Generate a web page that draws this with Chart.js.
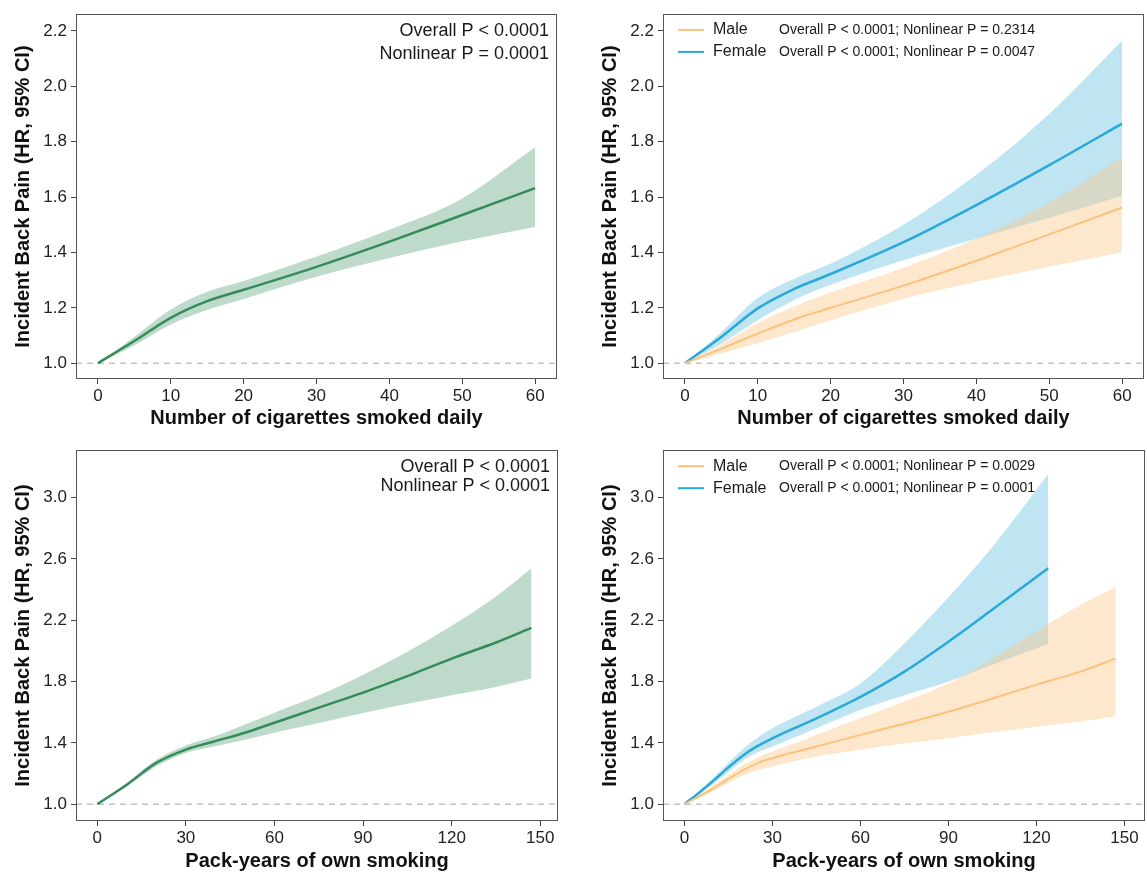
<!DOCTYPE html>
<html>
<head>
<meta charset="utf-8">
<script src="https://cdn.jsdelivr.net/npm/chart.js@4.4.1/dist/chart.umd.min.js"></script>
<style>
  body { margin: 0; background: #fff; }
  #wrap { position: relative; width: 1147px; height: 873px; }
  canvas { position: absolute; }
</style>
</head>
<body>
<div id="wrap">
  <canvas id="cigAll" width="575" height="436" style="left:0;top:0"></canvas>
  <canvas id="cigSex" width="572" height="436" style="left:575px;top:0"></canvas>
  <canvas id="packAll" width="575" height="437" style="left:0;top:436px"></canvas>
  <canvas id="packSex" width="572" height="437" style="left:575px;top:436px"></canvas>
</div>
<script>
// Valores
const refHR = 1.0;

// cigarros por dia
const cigDoses = [0, 5, 10, 15, 20, 30, 40, 50, 60];
const cigHR    = [1.0, 1.08, 1.164, 1.224, 1.265, 1.348, 1.439, 1.535, 1.632];
const cigUpper = [1.0, 1.095, 1.194, 1.258, 1.297, 1.385, 1.482, 1.595, 1.78];
const cigLower = [1.0, 1.064, 1.14, 1.192, 1.232, 1.312, 1.38, 1.44, 1.492];

const cigFemaleHR    = [1.0, 1.095, 1.198, 1.268, 1.322, 1.437, 1.571, 1.715, 1.865];
const cigFemaleUpper = [1.0, 1.112, 1.235, 1.305, 1.36, 1.50, 1.68, 1.90, 2.165];
const cigFemaleLower = [1.0, 1.07, 1.155, 1.228, 1.283, 1.372, 1.449, 1.525, 1.605];
const cigMaleHR      = [1.0, 1.052, 1.107, 1.158, 1.20, 1.28, 1.37, 1.465, 1.562];
const cigMaleUpper   = [1.0, 1.068, 1.145, 1.205, 1.255, 1.345, 1.45, 1.58, 1.744];
const cigMaleLower   = [1.0, 1.035, 1.072, 1.113, 1.155, 1.232, 1.293, 1.348, 1.401];

// maços-ano
const packDoses = [0, 10, 20, 30, 40, 50, 60, 75, 90, 105, 120, 135, 147];
const packHR    = [1.0, 1.127, 1.269, 1.356, 1.411, 1.466, 1.531, 1.63, 1.728, 1.835, 1.95, 2.055, 2.15];
const packUpper = [1.0, 1.14, 1.29, 1.383, 1.444, 1.52, 1.597, 1.71, 1.845, 1.995, 2.165, 2.355, 2.54];
const packLower = [1.0, 1.115, 1.247, 1.334, 1.378, 1.42, 1.466, 1.53, 1.595, 1.655, 1.71, 1.765, 1.82];

const packMaleDoses = [0, 5, 10, 15, 20, 25, 30, 45, 60, 75, 90, 105, 120, 135, 147];
const packMaleHR    = [1.0, 1.05, 1.105, 1.165, 1.222, 1.268, 1.30, 1.376, 1.452, 1.525, 1.603, 1.69, 1.78, 1.865, 1.95];
const packMaleUpper = [1.0, 1.06, 1.125, 1.19, 1.255, 1.305, 1.344, 1.452, 1.56, 1.67, 1.787, 1.95, 2.13, 2.30, 2.415];
const packMaleLower = [1.0, 1.04, 1.085, 1.138, 1.185, 1.222, 1.246, 1.311, 1.355, 1.395, 1.43, 1.47, 1.505, 1.54, 1.574];

const packFemaleDoses = [0, 5, 10, 15, 20, 25, 30, 45, 60, 75, 90, 105, 124];
const packFemaleHR    = [1.0, 1.075, 1.155, 1.24, 1.318, 1.38, 1.43, 1.56, 1.70, 1.865, 2.06, 2.27, 2.54];
const packFemaleUpper = [1.0, 1.085, 1.175, 1.27, 1.36, 1.435, 1.495, 1.636, 1.787, 2.05, 2.35, 2.68, 3.155];
const packFemaleLower = [1.0, 1.065, 1.135, 1.21, 1.285, 1.338, 1.376, 1.495, 1.614, 1.71, 1.80, 1.91, 2.045];

// eixos
const cigTicks = [0, 10, 20, 30, 40, 50, 60];
const cigTickLabels = ['0', '10', '20', '30', '40', '50', '60'];
const packTicks = [0, 30, 60, 90, 120, 150];
const packTickLabels = ['0', '30', '60', '90', '120', '150'];
const hrTicksTop = [1.0, 1.2, 1.4, 1.6, 1.8, 2.0, 2.2];
const hrLabelsTop = ['1.0', '1.2', '1.4', '1.6', '1.8', '2.0', '2.2'];
const hrTicksBottom = [1.0, 1.4, 1.8, 2.2, 2.6, 3.0];
const hrLabelsBottom = ['1.0', '1.4', '1.8', '2.2', '2.6', '3.0'];

const yTitle = 'Incident Back Pain (HR, 95% CI)';
const FONT = '"Liberation Sans", Arial, Helvetica, sans-serif';

const GREEN = '#358c5b', GREEN_BAND = 'rgba(53,140,91,0.32)';
const BLUE = '#2aa8d8', BLUE_BAND = 'rgba(42,168,216,0.30)';
const ORANGE = '#fcc27c', ORANGE_BAND = 'rgba(252,194,124,0.38)';

function pts(xs, ys) {
  return xs.map((x, i) => ({ x: x, y: ys[i] }));
}

// moldura do painel
const framePlugin = {
  id: 'frame',
  afterDraw(chart) {
    const a = chart.chartArea, ctx = chart.ctx;
    ctx.save();
    ctx.strokeStyle = '#555';
    ctx.lineWidth = 1;
    ctx.strokeRect(Math.round(a.left) + 0.5, Math.round(a.top) + 0.5,
      Math.round(a.right - a.left) - 1, Math.round(a.bottom - a.top) - 1);
    ctx.restore();
  }
};

function notesPlugin(o) {
  return {
    id: 'notes',
    afterDraw(chart) {
      const a = chart.chartArea, ctx = chart.ctx;
      ctx.save();
      ctx.textBaseline = 'middle';
      if (o.notes) {
        ctx.font = '18px ' + FONT;
        ctx.fillStyle = '#1a1a1a';
        ctx.textAlign = 'right';
        o.notes.forEach((t, i) => ctx.fillText(t, a.right - 8, a.top + o.noteY[i]));
      }
      if (o.legend) {
        o.legend.forEach((s, i) => {
          const y = a.top + o.noteY[i];
          ctx.strokeStyle = s.color;
          ctx.lineWidth = 2;
          ctx.beginPath();
          ctx.moveTo(a.left + 15, y);
          ctx.lineTo(a.left + 41, y);
          ctx.stroke();
          ctx.fillStyle = '#1a1a1a';
          ctx.textAlign = 'left';
          ctx.font = '16px ' + FONT;
          ctx.fillText(s.label, a.left + 50, y);
          ctx.font = '14px ' + FONT;
          ctx.fillText(s.stat, a.left + 116, y);
        });
      }
      ctx.restore();
    }
  };
}

function buildChart(id, o) {
  const datasets = [];
  o.series.forEach(s => {
    const lowIdx = datasets.length;
    datasets.push({ data: pts(s.x, s.lower), borderWidth: 0, pointRadius: 0, fill: false, order: 2, cubicInterpolationMode: 'monotone' });
    datasets.push({ data: pts(s.x, s.upper), borderWidth: 0, pointRadius: 0, fill: lowIdx, backgroundColor: s.band, order: 2, cubicInterpolationMode: 'monotone' });
    datasets.push({ data: pts(s.x, s.hr), borderColor: s.color, borderWidth: s.width, pointRadius: 0, fill: false, order: 0, cubicInterpolationMode: 'monotone' });
  });
  datasets.push({
    data: [{ x: o.xMin, y: refHR }, { x: o.xMax, y: refHR }],
    borderColor: '#c2c2c2', borderDash: [6, 5], borderWidth: 1.5, pointRadius: 0, fill: false, order: 1
  });

  new Chart(document.getElementById(id), {
    type: 'line',
    data: { datasets: datasets },
    options: {
      responsive: false,
      animation: false,
      layout: { padding: { left: 0, right: o.padR, top: o.padT, bottom: 0 } },
      plugins: { legend: { display: false }, tooltip: { enabled: false } },
      scales: {
        x: {
          type: 'linear', min: o.xMin, max: o.xMax,
          afterBuildTicks: sc => { sc.ticks = o.xTicks.map(v => ({ value: v })); },
          afterFit: sc => { sc.height = o.xAxisH; },
          ticks: { callback: (v, i) => o.xLabels[i], font: { family: FONT, size: 17 }, color: '#222', padding: 2, maxRotation: 0, autoSkip: false },
          grid: { drawOnChartArea: false, tickLength: 5, tickColor: '#444', tickWidth: 1 },
          border: { display: false },
          title: { display: true, text: o.xTitle, color: '#111', font: { family: FONT, size: 20, weight: 'bold' }, padding: { top: 0, bottom: o.xTitlePad } }
        },
        y: {
          type: 'linear', min: o.yMin, max: o.yMax,
          afterBuildTicks: sc => { sc.ticks = o.yTicks.map(v => ({ value: v })); },
          afterFit: sc => { sc.width = o.yAxisW; },
          ticks: { callback: (v, i) => o.yLabels[i], font: { family: FONT, size: 17 }, color: '#222', padding: 4, autoSkip: false },
          grid: { drawOnChartArea: false, tickLength: 5, tickColor: '#444', tickWidth: 1 },
          border: { display: false },
          title: { display: true, text: yTitle, color: '#111', font: { family: FONT, size: 20, weight: 'bold' }, padding: { top: o.yTitlePad, bottom: 0 } }
        }
      }
    },
    plugins: [framePlugin, notesPlugin(o)]
  });
}

// Inicializar os quatro painéis
document.addEventListener('DOMContentLoaded', () => {
  buildChart('cigAll', {
    series: [{ x: cigDoses, hr: cigHR, upper: cigUpper, lower: cigLower, color: GREEN, band: GREEN_BAND, width: 2.5 }],
    xMin: -3, xMax: 63, yMin: 0.943, yMax: 2.26,
    xTicks: cigTicks, xLabels: cigTickLabels, yTicks: hrTicksTop, yLabels: hrLabelsTop,
    xTitle: 'Number of cigarettes smoked daily',
    padR: 18, padT: 8, xAxisH: 57, yAxisW: 76, xTitlePad: 6, yTitlePad: 11,
    notes: ['Overall P < 0.0001', 'Nonlinear P = 0.0001'], noteY: [17, 39.7]
  });

  buildChart('cigSex', {
    series: [
      { x: cigDoses, hr: cigMaleHR, upper: cigMaleUpper, lower: cigMaleLower, color: ORANGE, band: ORANGE_BAND, width: 2 },
      { x: cigDoses, hr: cigFemaleHR, upper: cigFemaleUpper, lower: cigFemaleLower, color: BLUE, band: BLUE_BAND, width: 2.5 }
    ],
    xMin: -3, xMax: 63, yMin: 0.943, yMax: 2.26,
    xTicks: cigTicks, xLabels: cigTickLabels, yTicks: hrTicksTop, yLabels: hrLabelsTop,
    xTitle: 'Number of cigarettes smoked daily',
    padR: 3, padT: 8, xAxisH: 57, yAxisW: 88, xTitlePad: 6, yTitlePad: 23,
    legend: [
      { color: ORANGE, label: 'Male', stat: 'Overall P < 0.0001; Nonlinear P = 0.2314' },
      { color: BLUE, label: 'Female', stat: 'Overall P < 0.0001; Nonlinear P = 0.0047' }
    ],
    noteY: [15.7, 37.7]
  });

  buildChart('packAll', {
    series: [{ x: packDoses, hr: packHR, upper: packUpper, lower: packLower, color: GREEN, band: GREEN_BAND, width: 2.5 }],
    xMin: -7.2, xMax: 156, yMin: 0.89, yMax: 3.31,
    xTicks: packTicks, xLabels: packTickLabels, yTicks: hrTicksBottom, yLabels: hrLabelsBottom,
    xTitle: 'Pack-years of own smoking',
    padR: 17, padT: 13, xAxisH: 52, yAxisW: 76, xTitlePad: 0, yTitlePad: 11,
    notes: ['Overall P < 0.0001', 'Nonlinear P < 0.0001'], noteY: [17, 36]
  });

  buildChart('packSex', {
    series: [
      { x: packMaleDoses, hr: packMaleHR, upper: packMaleUpper, lower: packMaleLower, color: ORANGE, band: ORANGE_BAND, width: 2 },
      { x: packFemaleDoses, hr: packFemaleHR, upper: packFemaleUpper, lower: packFemaleLower, color: BLUE, band: BLUE_BAND, width: 2.5 }
    ],
    xMin: -7.3, xMax: 157, yMin: 0.89, yMax: 3.31,
    xTicks: packTicks, xLabels: packTickLabels, yTicks: hrTicksBottom, yLabels: hrLabelsBottom,
    xTitle: 'Pack-years of own smoking',
    padR: 2, padT: 13, xAxisH: 52, yAxisW: 88, xTitlePad: 0, yTitlePad: 23,
    legend: [
      { color: ORANGE, label: 'Male', stat: 'Overall P < 0.0001; Nonlinear P = 0.0029' },
      { color: BLUE, label: 'Female', stat: 'Overall P < 0.0001; Nonlinear P = 0.0001' }
    ],
    noteY: [16, 38]
  });
});
</script>
</body>
</html>
